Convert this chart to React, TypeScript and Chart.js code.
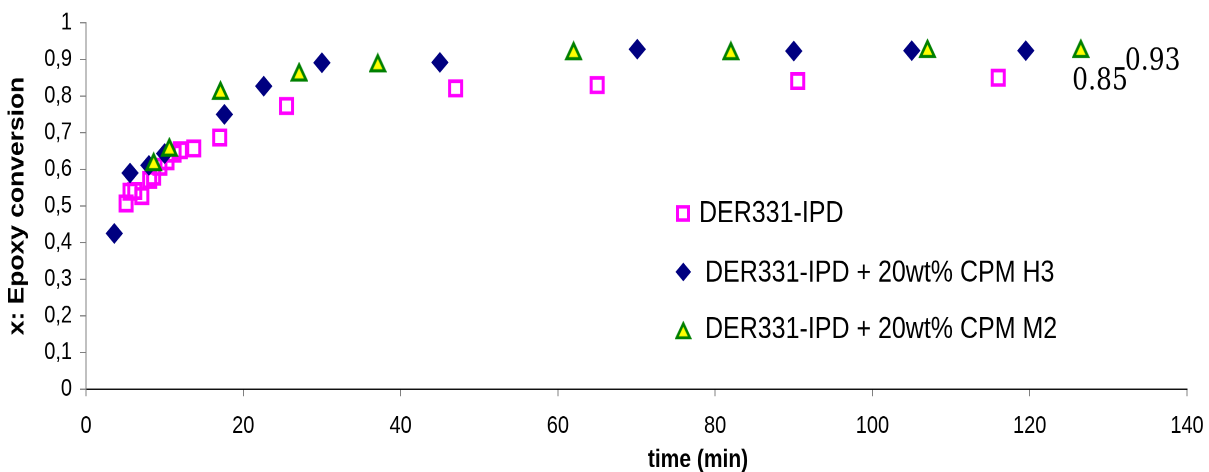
import React, { useEffect, useRef } from 'react';
import { Chart, registerables } from 'chart.js';

Chart.register(...registerables);

// ---------- data ----------
const seriesNames = ['DER331-IPD', 'DER331-IPD + 20wt% CPM H3', 'DER331-IPD + 20wt% CPM M2'];

const ipdTime = [5.1, 5.6, 6.2, 7.1, 8.1, 8.6, 9.4, 10.3, 11.2, 12.0, 13.7, 17.0, 25.5, 47.0, 65.0, 90.5, 116.0];
const ipdConv = [0.507, 0.539, 0.541, 0.527, 0.571, 0.58, 0.607, 0.622, 0.643, 0.652, 0.657, 0.687, 0.773, 0.821, 0.83, 0.841, 0.85];

const h3Time = [3.6, 5.6, 8.0, 10.0, 17.6, 22.6, 30.0, 45.0, 70.1, 90.0, 105.0, 119.5];
const h3Conv = [0.425, 0.59, 0.611, 0.643, 0.75, 0.827, 0.891, 0.892, 0.928, 0.923, 0.924, 0.924];

const m2Time = [8.6, 10.6, 17.1, 27.1, 37.1, 62.0, 82.0, 107.0, 126.5];
const m2Conv = [0.621, 0.661, 0.816, 0.866, 0.891, 0.924, 0.924, 0.93, 0.93];

const yTickLabels = ['0', '0,1', '0,2', '0,3', '0,4', '0,5', '0,6', '0,7', '0,8', '0,9', '1'];
const endLabels = ['0.85', '0.93'];
const xTitle = 'time (min)';
const yTitle = 'x: Epoxy conversion';

// ---------- layout / style ----------
const W = 1209;
const H_LOGICAL = 393; // drawn height, displayed stretched to 472
const H_DISPLAY = 472;
const SANS = "'Liberation Sans', Arial, sans-serif";

function makeTriangleImage(): HTMLImageElement {
  const s = 4;
  const w = 18, h = 17;
  const c = document.createElement('canvas');
  c.width = w * s;
  c.height = h * s;
  const g = c.getContext('2d')!;
  g.scale(s, s);
  g.beginPath();
  g.moveTo(9, 2.6);
  g.lineTo(16.0, 15.2);
  g.lineTo(2.0, 15.2);
  g.closePath();
  g.fillStyle = '#FFFF00';
  g.fill();
  g.lineWidth = 2.6;
  g.lineJoin = 'miter';
  g.strokeStyle = '#008000';
  g.stroke();
  const img = new Image();
  img.src = c.toDataURL();
  img.width = w;
  img.height = h;
  return img;
}

export default function App() {
  const ref = useRef<HTMLCanvasElement>(null);

  useEffect(() => {
    let chart: Chart | null = null;
    let cancelled = false;
    const canvas = ref.current!;
    const tri = makeTriangleImage();

    const decor = {
      id: 'decor',
      afterDatasetsDraw(c: any) {
        const ctx: CanvasRenderingContext2D = c.ctx;
        const xs = c.scales.x;
        const ys = c.scales.y;
        ctx.save();
        // x axis title
        ctx.fillStyle = '#000';
        ctx.font = `bold 21px ${SANS}`;
        ctx.textAlign = 'center';
        ctx.textBaseline = 'middle';
        ctx.fillText(xTitle, 698, 383);

        // legend
        ctx.textAlign = 'left';
        ctx.textBaseline = 'alphabetic';
        ctx.font = `25px ${SANS}`;
        // square
        ctx.strokeStyle = '#FF00FF';
        ctx.lineWidth = 3;
        ctx.strokeRect(683 - 5.5, 177.7 - 5.5, 11, 11);
        ctx.fillText(seriesNames[0], 699, 185);
        // diamond
        ctx.beginPath();
        const dx = 683.3, dy = 226.4, r = 7.8;
        ctx.moveTo(dx - r, dy);
        ctx.lineTo(dx, dy - r);
        ctx.lineTo(dx + r, dy);
        ctx.lineTo(dx, dy + r);
        ctx.closePath();
        ctx.fillStyle = '#000080';
        ctx.fill();
        ctx.fillStyle = '#000';
        ctx.fillText(seriesNames[1], 705, 234.7);
        // triangle
        ctx.drawImage(tri, 683.3 - 8.5, 275 - 8, 17, 16);
        ctx.fillText(seriesNames[2], 705, 281.7);

        // end labels
        ctx.font = "25px 'DejaVu Serif', serif";
        ctx.textBaseline = 'middle';
        ctx.fillText(endLabels[0], xs.getPixelForValue(125.4), ys.getPixelForValue(0.839));
        ctx.fillText(endLabels[1], xs.getPixelForValue(132.1), ys.getPixelForValue(0.893));
        ctx.restore();
      },
    };

    const start = () => {
      if (cancelled) return;
      chart = new Chart(canvas, {
        type: 'scatter',
        data: {
          datasets: [
            {
              label: seriesNames[0],
              data: ipdTime.map((t, i) => ({ x: t, y: ipdConv[i] })),
              pointStyle: 'rect',
              pointRadius: 8.5,
              borderWidth: 3,
              borderColor: '#FF00FF',
              backgroundColor: 'rgba(0,0,0,0)',
              order: 3,
            },
            {
              label: seriesNames[1],
              data: h3Time.map((t, i) => ({ x: t, y: h3Conv[i] })),
              pointStyle: 'rectRot',
              pointRadius: 8,
              borderWidth: 1,
              borderColor: '#000080',
              backgroundColor: '#000080',
              order: 2,
            },
            {
              label: seriesNames[2],
              data: m2Time.map((t, i) => ({ x: t, y: m2Conv[i] })),
              pointStyle: tri as any,
              pointRadius: 9,
              order: 1,
            },
          ],
        },
        options: {
          responsive: false,
          animation: false,
          devicePixelRatio: 2,
          events: [],
          layout: { padding: { left: 0, right: 22, top: 19, bottom: 0 } },
          plugins: { legend: { display: false }, tooltip: { enabled: false } },
          scales: {
            x: {
              type: 'linear',
              min: 0,
              max: 140,
              afterFit: (s: any) => {
                s.height = H_LOGICAL - 324;
                s.paddingLeft = 0;
                s.paddingRight = 0;
              },
              ticks: {
                stepSize: 20,
                color: '#000',
                font: { family: SANS, size: 20 },
                padding: 13,
                maxRotation: 0,
              },
              grid: { display: true, drawOnChartArea: false, drawTicks: true, tickLength: 6, color: '#808080' },
              border: { display: true, color: '#000', width: 1 },
              title: { display: false },
            },
            y: {
              type: 'linear',
              min: 0,
              max: 1,
              afterFit: (s: any) => {
                s.width = 86;
                s.paddingTop = 0;
                s.paddingBottom = 0;
              },
              ticks: {
                stepSize: 0.1,
                color: '#000',
                font: { family: SANS, size: 20 },
                padding: 8,
                callback: (_v: any, i: number) => yTickLabels[i],
              },
              grid: { display: true, drawOnChartArea: false, drawTicks: true, tickLength: 6, color: '#808080' },
              border: { display: true, color: '#808080', width: 1 },
              title: {
                display: true,
                text: yTitle,
                color: '#000',
                font: { family: SANS, size: 22, weight: 'bold' },
                padding: { top: 4, bottom: 0 },
              },
            },
          },
        },
        plugins: [decor],
      } as any);
    };

    tri.decode().then(start, start);

    return () => {
      cancelled = true;
      if (chart) chart.destroy();
    };
  }, []);

  return (
    <div style={{ position: 'absolute', left: 0, top: 0, width: W, height: H_DISPLAY, background: '#fff' }}>
      <canvas
        ref={ref}
        width={W}
        height={H_LOGICAL}
        style={{ width: `${W}px`, height: `${H_DISPLAY}px`, display: 'block' }}
      />
    </div>
  );
}
